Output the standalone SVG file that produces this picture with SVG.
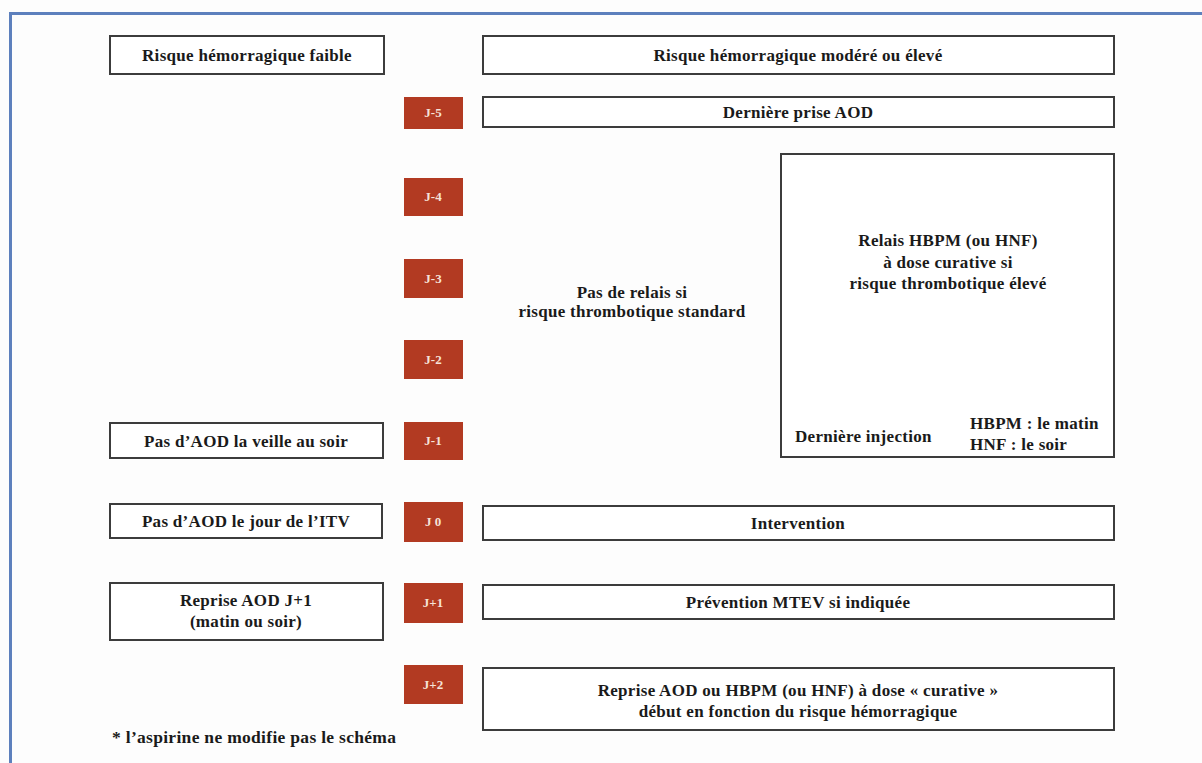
<svg xmlns="http://www.w3.org/2000/svg" width="1202" height="763" viewBox="0 0 1202 763">
<style>
text{font-family:"Liberation Serif","Times New Roman",serif;font-weight:bold;fill:#1a1a1a;font-size:17px;letter-spacing:0.3px}
.c{text-anchor:middle}
.box{fill:#ffffff;stroke:#3c3c3c;stroke-width:2}
.day{fill:#b23a22;stroke:none}
.dt{fill:#f6e2d8;font-size:13px;letter-spacing:0;text-anchor:middle}
.frame{stroke:#5d80bd;stroke-width:3;fill:none}
</style>
<rect x="0" y="0" width="1202" height="763" fill="#fdfdfd"/>
<path class="frame" d="M10.5,763 V13.5 H1202"/>
<g id="connectors"/>
<g id="low-risk"><rect class="box" x="110" y="36" width="274" height="38"/><text class="c" x="247" y="61">Risque hémorragique faible</text></g>
<g id="high-risk"><rect class="box" x="483" y="36" width="631" height="38"/><text class="c" x="798" y="61">Risque hémorragique modéré ou élevé</text></g>
<g id="j-5"><rect class="day" x="404" y="97" width="59" height="32"/><text class="dt" x="433" y="117">J-5</text></g>
<g id="last-dose"><rect class="box" x="483" y="97" width="631" height="30"/><text class="c" x="798" y="118">Dernière prise AOD</text></g>
<g id="j-4"><rect class="day" x="404" y="178" width="59" height="38"/><text class="dt" x="433" y="201">J-4</text></g>
<g id="j-3"><rect class="day" x="404" y="259" width="59" height="39"/><text class="dt" x="433" y="283">J-3</text></g>
<g id="j-2"><rect class="day" x="404" y="340" width="59" height="39"/><text class="dt" x="433" y="364">J-2</text></g>
<g id="no-bridge"><text class="c" x="632" y="298">Pas de relais si</text><text class="c" x="632" y="317">risque thrombotique standard</text></g>
<g id="bridge"><rect class="box" x="781" y="154" width="333" height="303"/>
<text class="c" x="948" y="246">Relais HBPM (ou HNF)</text>
<text class="c" x="948" y="268">à dose curative si</text>
<text class="c" x="948" y="289">risque thrombotique élevé</text>
<text x="795" y="442">Dernière injection</text>
<text x="970" y="429">HBPM : le matin</text>
<text x="970" y="450">HNF : le soir</text></g>
<g id="eve"><rect class="box" x="110" y="423" width="273" height="35"/><text class="c" x="246" y="447">Pas d’AOD la veille au soir</text></g>
<g id="j-1"><rect class="day" x="404" y="422" width="59" height="38"/><text class="dt" x="433" y="445">J-1</text></g>
<g id="day-itv"><rect class="box" x="110" y="504" width="272" height="34"/><text class="c" x="246" y="527">Pas d’AOD le jour de l’ITV</text></g>
<g id="j0"><rect class="day" x="404" y="502" width="59" height="40"/><text class="dt" x="433" y="526">J 0</text></g>
<g id="intervention"><rect class="box" x="483" y="506" width="631" height="34"/><text class="c" x="798" y="529">Intervention</text></g>
<g id="resume-j1"><rect class="box" x="110" y="583" width="273" height="57"/><text class="c" x="246" y="606">Reprise AOD J+1</text><text class="c" x="246" y="627">(matin ou soir)</text></g>
<g id="j+1"><rect class="day" x="404" y="583" width="59" height="40"/><text class="dt" x="433" y="607">J+1</text></g>
<g id="prevention"><rect class="box" x="483" y="585" width="631" height="34"/><text class="c" x="798" y="608">Prévention MTEV si indiquée</text></g>
<g id="j+2"><rect class="day" x="404" y="665" width="59" height="39"/><text class="dt" x="433" y="689">J+2</text></g>
<g id="resume"><rect class="box" x="483" y="668" width="631" height="62"/><text class="c" x="798" y="696">Reprise AOD ou HBPM (ou HNF) à dose « curative »</text><text class="c" x="798" y="717">début en fonction du risque hémorragique</text></g>
<g id="footnote"><text x="112" y="743" style="font-size:17.5px">* l’aspirine ne modifie pas le schéma</text></g>
</svg>
